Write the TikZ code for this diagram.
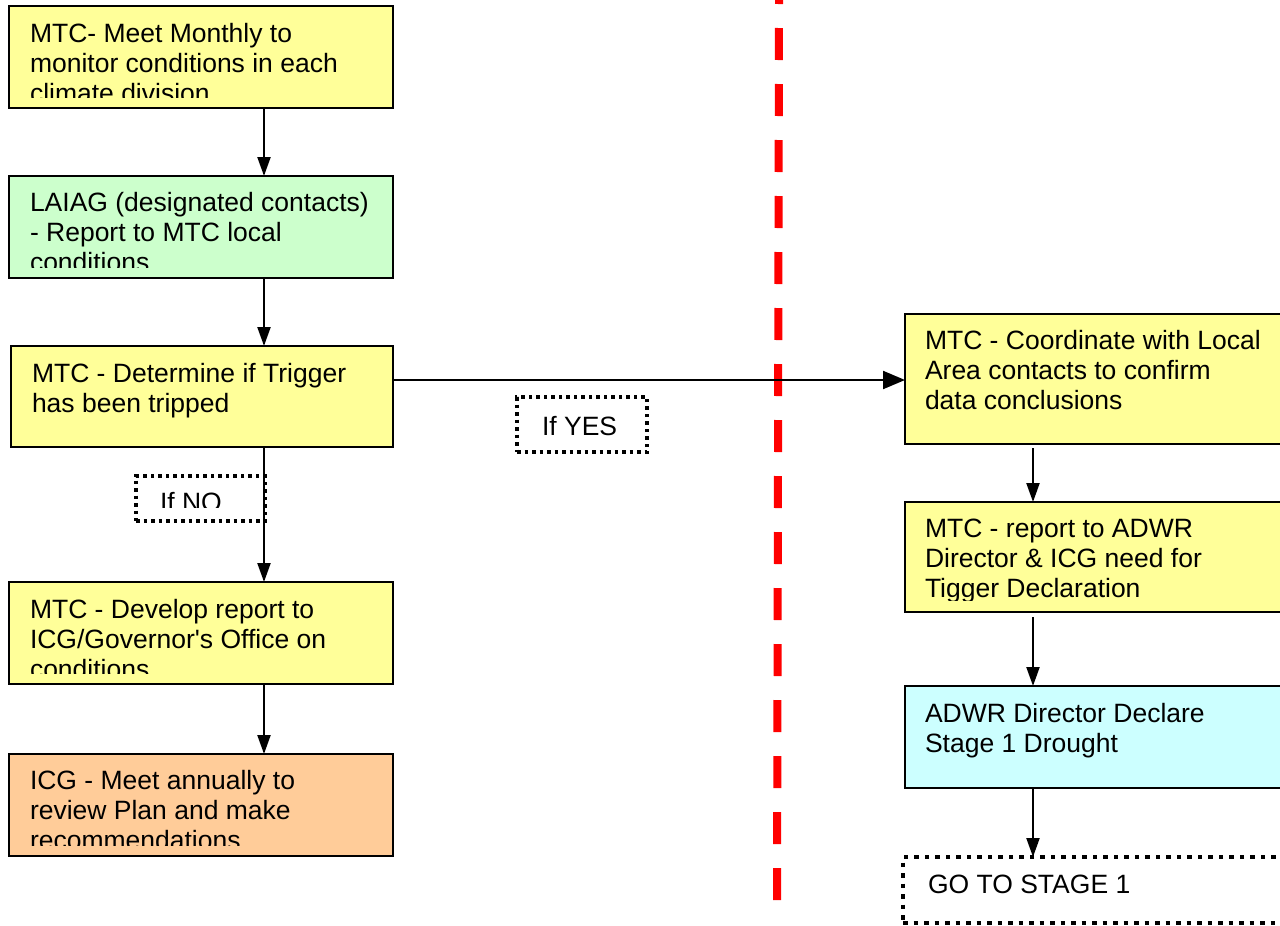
\documentclass[tikz,border=0pt]{standalone}
\usepackage{fontspec}
\setmainfont{Liberation Sans}
\usetikzlibrary{arrows.meta}
\definecolor{byellow}{HTML}{FFFF99}
\definecolor{bgreen}{HTML}{CCFFCC}
\definecolor{borange}{HTML}{FFCC99}
\definecolor{bcyan}{HTML}{CCFFFF}
\begin{document}
\begin{tikzpicture}[x=1pt,y=-1pt,
  box/.style={draw=black, line width=2.5pt, anchor=north west, inner sep=0pt, outer sep=0pt},
  txt/.style={anchor=base west, inner sep=0pt, outer sep=0pt, align=left, font=\fontsize{26.5}{30}\selectfont},
  arr/.style={draw=black, line width=2.2pt, -{Triangle[length=19pt,width=13pt]}},
  bigarr/.style={draw=black, line width=2.2pt, -{Triangle[length=22pt,width=18pt]}},
  dotbox/.style={draw=black, line width=3.5pt, dash pattern=on 3.5pt off 4pt, anchor=north west, inner sep=0pt, outer sep=0pt},
  bigdotbox/.style={draw=black, line width=4.5pt, dash pattern=on 4.5pt off 6pt, anchor=north west, inner sep=0pt, outer sep=0pt},
  divider/.style={draw=red, line width=8pt, dash pattern=on 32pt off 24pt}
]
\useasboundingbox (0,0) rectangle (1280,926);
\clip (0,0) rectangle (1280,926);

% divider
\coordinate (dbot) at (777,900);
\coordinate (dtop) at (779,0);
\draw[divider] (dbot) -- (dtop);

% left column boxes
\node[box, fill=byellow, minimum width=384pt, minimum height=102pt] (b1) at (9,6) {};
\node[box, fill=bgreen, minimum width=384pt, minimum height=102pt] (b2) at (9,176) {};
\node[box, fill=byellow, minimum width=382pt, minimum height=101pt] (b3) at (11,346) {};
\node[box, fill=byellow, minimum width=384pt, minimum height=102pt] (b4) at (9,582) {};
\node[box, fill=borange, minimum width=384pt, minimum height=102pt] (b5) at (9,754) {};

% right column boxes
\node[box, fill=byellow, minimum width=400pt, minimum height=130pt] (r1) at (905,314) {};
\node[box, fill=byellow, minimum width=400pt, minimum height=110pt] (r2) at (905,502) {};
\node[box, fill=bcyan, minimum width=400pt, minimum height=102pt] (r3) at (905,686) {};
\node[bigdotbox, minimum width=400pt, minimum height=66pt] (r4) at (903,857) {};

% labels
\node[dotbox, minimum width=129pt, minimum height=45pt] (no) at (136,476) {};
\node[dotbox, minimum width=130pt, minimum height=55pt] (yes) at (517,397) {};

% texts (anchor = baseline of the last line; clipped to the box text area)
\begin{scope}
  \clip (b1.north west) rectangle ([yshift=11pt]b1.south east);
  \node[txt] (t1) at ([xshift=21pt,yshift=-96pt]b1.north west) {MTC- Meet Monthly to\\monitor conditions in each\\climate division};
\end{scope}
\begin{scope}
  \clip (b2.north west) rectangle ([yshift=11pt]b2.south east);
  \node[txt] (t2) at ([xshift=21pt,yshift=-95pt]b2.north west) {LAIAG (designated contacts)\\- Report to MTC local\\conditions};
\end{scope}
\begin{scope}
  \clip (b3.north west) rectangle ([yshift=11pt]b3.south east);
  \node[txt] (t3) at ([xshift=21pt,yshift=-66pt]b3.north west) {MTC - Determine if Trigger\\has been tripped};
\end{scope}
\begin{scope}
  \clip (b4.north west) rectangle ([yshift=11pt]b4.south east);
  \node[txt] (t4) at ([xshift=21pt,yshift=-96pt]b4.north west) {MTC - Develop report to\\ICG/Governor\textquotesingle s Office on\\conditions};
\end{scope}
\begin{scope}
  \clip (b5.north west) rectangle ([yshift=11pt]b5.south east);
  \node[txt] (t5) at ([xshift=21pt,yshift=-95pt]b5.north west) {ICG - Meet annually to\\review Plan and make\\recommendations};
\end{scope}
\node[txt] (t6) at ([xshift=20pt,yshift=-95pt]r1.north west) {MTC - Coordinate with Local\\Area contacts to confirm\\data conclusions};
\begin{scope}
  \clip (r2.north west) rectangle ([yshift=12pt]r2.south east);
  \node[txt] (t7) at ([xshift=20pt,yshift=-95pt]r2.north west) {MTC - report to ADWR\\Director \& ICG need for\\Tigger Declaration};
\end{scope}
\node[txt] (t8) at ([xshift=20pt,yshift=-66pt]r3.north west) {ADWR Director Declare\\Stage 1 Drought};
\node[txt] (t9) at ([xshift=25pt,yshift=-36pt]r4.north west) {GO TO STAGE 1};
\begin{scope}
  \clip (no.north west) rectangle ([yshift=14pt]no.south east);
  \node[txt] (t10) at ([xshift=24pt,yshift=-35pt]no.north west) {If NO};
\end{scope}
\node[txt] (t11) at ([xshift=25pt,yshift=-38pt]yes.north west) {If YES};

% connectors
\draw[arr] (b1.south -| 264,0) -- (b2.north -| 264,0);
\draw[arr] (b2.south -| 264,0) -- (b3.north -| 264,0);
\draw[arr] (b3.south -| 264,0) -- (b4.north -| 264,0);
\draw[arr] (b4.south -| 264,0) -- (b5.north -| 264,0);
\draw[bigarr] (b3.east |- 0,380) -- (r1.west |- 0,380);
\draw[arr, shorten <=4pt] (r1.south -| 1033,0) -- (r2.north -| 1033,0);
\draw[arr, shorten <=5pt] (r2.south -| 1033,0) -- (r3.north -| 1033,0);
\draw[arr] (r3.south -| 1033,0) -- (r4.north -| 1033,0);
\end{tikzpicture}
\end{document}
